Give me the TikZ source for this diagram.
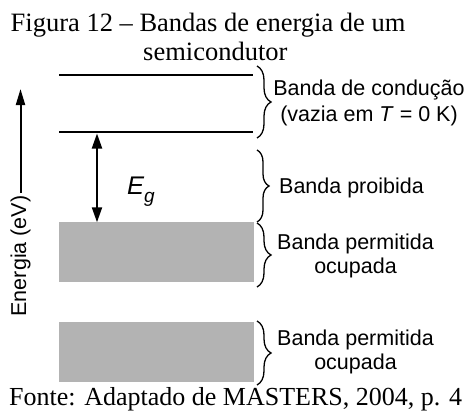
\documentclass[tikz,border=0pt]{standalone}
\usepackage{fontspec}
\setmainfont{Liberation Serif}
\setsansfont{Liberation Sans}
\usetikzlibrary{arrows.meta,decorations.pathreplacing}
\definecolor{bandgray}{RGB}{179,179,179}
\begin{document}
\begin{tikzpicture}[x=1pt,y=-1pt,
  level/.style={line width=2.8pt},
  bandbox/.style={fill=bandgray,draw=none,inner sep=0pt,minimum width=195pt,minimum height=60pt},
  bracket/.style={decorate,decoration={brace,amplitude=14pt,aspect=0.5},line width=1.3pt},
  lab/.style={font=\sffamily\fontsize{21.5}{24}\selectfont,align=center,inner sep=0pt},
  ttl/.style={font=\fontsize{26.5}{30}\selectfont,inner sep=0pt,anchor=base west},
  tip/.style={line width=2pt,-{Triangle[length=16pt,width=9pt]}},
  dtip/.style={line width=2pt,{Triangle[length=15pt,width=10pt]}-{Triangle[length=15pt,width=10pt]}}]
\useasboundingbox (0,0) rectangle (466,412);
% title
\node[ttl] (t1) at (10.5,32) {Figura 12 -- Bandas de energia de um};
\node[ttl] (t2) at (143,60) {semicondutor};
% conduction band levels
\coordinate (c1a) at (59,75);  \coordinate (c1b) at (253,75);
\coordinate (c2a) at (59,132); \coordinate (c2b) at (253,132);
\draw[level] (c1a) -- (c1b);
\draw[level] (c2a) -- (c2b);
% bands
\node[bandbox] (vb1) at (156.5,252.3) {};
\node[bandbox] (vb2) at (156.5,351.5) {};
% energy axis
\node[font=\sffamily\fontsize{21.5}{24}\selectfont,rotate=90,inner sep=0pt] (elab) at (20.5,256) {Energia (eV)};
\coordinate (atop) at (20.5,89);
\coordinate (abot) at (20.5,193);
\draw[tip] (abot) -- (atop);
% band gap arrow
\coordinate (gt) at (97,133.5);
\coordinate (gb) at (97,222.3);
\draw[dtip] (gt) -- (gb);
\node[font=\sffamily\itshape\fontsize{25.5}{26}\selectfont,inner sep=0pt,anchor=base west] (eg) at (127,194)
  {E\raisebox{-8pt}{\fontsize{19}{19}\selectfont g}};
% braces
\coordinate (b1a) at (257,66);  \coordinate (b1b) at (257,138);
\coordinate (b2a) at (257,150); \coordinate (b2b) at (257,222);
\coordinate (b3a) at (257,223); \coordinate (b3b) at (257,287);
\coordinate (b4a) at (257,321); \coordinate (b4b) at (257,385);
\draw[bracket] (b1a) -- (b1b);
\draw[bracket,decoration={amplitude=12pt}] (b2a) -- (b2b);
\draw[bracket] (b3a) -- (b3b);
\draw[bracket] (b4a) -- (b4b);
% labels
\node[lab,font=\sffamily\fontsize{21.5}{26}\selectfont] (l1) at (369,103) {Banda de condução\\(vazia em \textit{T} = 0 K)};
\node[lab,anchor=base] (l2) at (351.5,193) {Banda proibida};
\node[lab] (l3) at (355.5,256.4) {Banda permitida\\ocupada};
\node[lab] (l4) at (355.5,352) {Banda permitida\\ocupada};
% source
\node[ttl,font=\fontsize{26}{30}\selectfont] (src) at (9,405.5) {Fonte: Adaptado de MASTERS, 2004, p. 4};
\end{tikzpicture}
\end{document}
